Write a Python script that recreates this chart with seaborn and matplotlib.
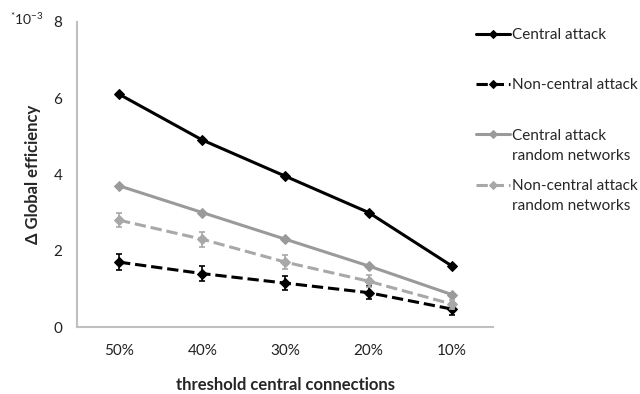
import numpy as np
import pandas as pd
import matplotlib
matplotlib.use('Agg')
import matplotlib.pyplot as plt
import seaborn as sns

# data (values in units of 10^-3)
thresholds = ['50%', '40%', '30%', '20%', '10%']
central = [6.1, 4.9, 3.95, 3.0, 1.6]
noncentral = [1.7, 1.4, 1.15, 0.9, 0.47]
central_rand = [3.7, 3.0, 2.3, 1.6, 0.85]
noncentral_rand = [2.8, 2.3, 1.7, 1.2, 0.6]
noncentral_err = [0.2, 0.2, 0.18, 0.17, 0.15]
noncentral_rand_err = [0.18, 0.2, 0.18, 0.15, 0.12]

sns.set_style('white')
plt.rcParams['font.family'] = ['Lato', 'DejaVu Sans']
plt.rcParams['mathtext.default'] = 'regular'

fig = plt.figure(figsize=(6.4, 3.94), dpi=100)
ax = fig.add_axes([0.121, 0.17, 0.65, 0.775])

pos = np.arange(len(thresholds))
# name, values, errors, colour, linestyle, second legend line
series = [
    ('Central attack', central, None, 'black', '-', None),
    ('Non-central attack', noncentral, noncentral_err, 'black', '--', None),
    ('Central attack', central_rand, None, '#9a9a9a', '-', 'random networks'),
    ('Non-central attack', noncentral_rand, noncentral_rand_err, '#a8a8a8', '--', 'random networks'),
]
for name, vals, err, col, ls, _ in series:
    df = pd.DataFrame({'x': pos, 'y': vals})
    sns.lineplot(data=df, x='x', y='y', ax=ax, color=col, linestyle=ls,
                 linewidth=2.2, marker='D', markersize=5, markeredgecolor=col,
                 label=name)
    if err is not None:
        ax.errorbar(pos, vals, yerr=err, fmt='none', ecolor=col,
                    elinewidth=1.2, capsize=2.5, capthick=1.2)

ax.set_xlim(-0.5, 4.5)
ax.set_ylim(0, 8)
ax.set_yticks([0, 2, 4, 6, 8])
ax.set_xticks(pos)
ax.set_xticklabels(thresholds)
ax.tick_params(axis='both', length=0, labelsize=11, colors='#222222')
ax.tick_params(axis='x', pad=12)
ax.tick_params(axis='y', pad=11)
for s in ['top', 'right']:
    ax.spines[s].set_visible(False)
for s in ['left', 'bottom']:
    ax.spines[s].set_color('#bfbfbf')
    ax.spines[s].set_linewidth(1.5)

ax.set_xlabel('threshold central connections', fontsize=12, fontweight='bold',
              labelpad=14)
ax.set_ylabel('Δ Global efficiency', fontsize=12, fontweight='bold', labelpad=9)
fig.text(10 / 640, 1 - 19 / 394, r'$^{*}$10$^{-3}$', fontsize=10, va='center',
         color='#222222')

leg = ax.legend(loc='upper left', bbox_to_anchor=(476 / 640, 1 - 28 / 394),
                bbox_transform=fig.transFigure, frameon=False, fontsize=11,
                handlelength=2.2, handletextpad=0.15, labelspacing=2.38,
                borderpad=0, borderaxespad=0, markerscale=0.9)

# second line of the two-line legend labels
fig.canvas.draw()
for txt, (_, _, _, _, _, extra) in zip(leg.get_texts(), series):
    if extra:
        bb = txt.get_window_extent()
        fig.text(bb.x0 / 640, (bb.y0 - 20) / 394, extra,
                 fontsize=11, va='bottom', ha='left')

fig.savefig('out.png', dpi=100)
